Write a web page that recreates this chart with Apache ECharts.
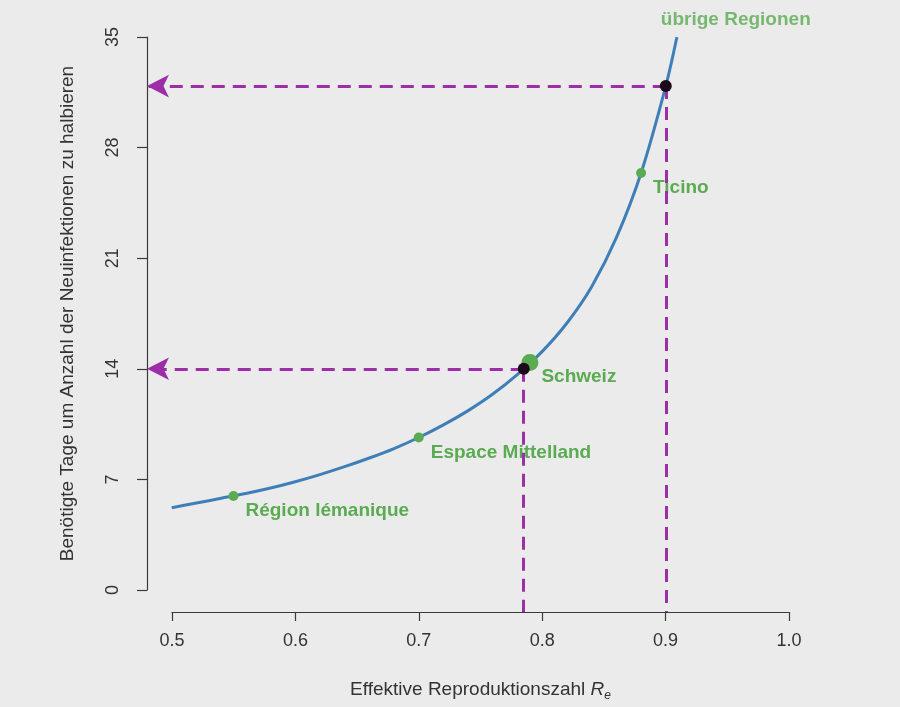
<!DOCTYPE html>
<html>
<head>
<meta charset="utf-8">
<script src="https://cdn.jsdelivr.net/npm/echarts@6/dist/echarts.min.js"></script>
<style>
  html, body { margin: 0; padding: 0; background: #ebebeb; }
  #chart { width: 900px; height: 707px; }
</style>
</head>
<body>
<div id="chart"></div>
<script>
// Kurve
const curveR = [0.50, 0.52, 0.54, 0.56, 0.58, 0.60, 0.62, 0.64, 0.66, 0.68, 0.70, 0.72, 0.74, 0.76, 0.78, 0.80, 0.82, 0.84, 0.86, 0.88, 0.90, 0.909]
const curveDays = [5.2, 5.5, 5.8, 6.1, 6.45, 6.85, 7.3, 7.8, 8.35, 8.95, 9.65, 10.45, 11.35, 12.4, 13.65, 15.1, 16.9, 19.2, 22.3, 26.4, 31.9, 35.0]

// Regionen
const regionNames = ['Région lémanique', 'Espace Mittelland', 'Schweiz', 'Ticino']
const regionR = [0.55, 0.70, 0.79, 0.88]
const regionDays = [5.95, 9.65, 14.4, 26.4]

// nur Beschriftung, Punkt liegt ausserhalb
const topLabel = 'übrige Regionen'
const topLabelR = 0.896
const topLabelDays = 36.1

// Ablese-Hilfslinien
const guideR = [0.785, 0.90]
const guideDays = [14.0, 31.9]

// Achsen
const xTickMin = 0.5, xTickMax = 1.0, xTickStep = 0.1
const yTickMin = 0, yTickMax = 35, yTickStep = 7

const green = '#5aab51'
const magenta = '#9c2fa8'
const blue = '#3f7fb8'
const axisColor = '#3a3a3a'
const font = 'Liberation Sans, Arial, Helvetica, sans-serif'

// R-Stil: Daten-Bereich 4% groesser als die beschrifteten Achsen
const padX = (xTickMax - xTickMin) * 0.04
const padY = (yTickMax - yTickMin) * 0.04
const xLo = xTickMin - padX, xHi = xTickMax + padX
const yLo = yTickMin - padY, yHi = yTickMax + padY

const chart = echarts.init(document.getElementById('chart'))

const guideLines = []
guideR.forEach((r, i) => {
  guideLines.push([
    { coord: [r, guideDays[i]], symbol: 'none' },
    { coord: [xLo, guideDays[i]], symbol: 'arrow' }
  ])
  guideLines.push([
    { coord: [r, guideDays[i]], symbol: 'none' },
    { coord: [r, yLo], symbol: 'none' }
  ])
})

const option = {
  backgroundColor: '#ebebeb',
  animation: false,
  textStyle: { fontFamily: font },
  grid: [
    { left: 147, right: 86, top: 15, bottom: 95 },   // Daten
    { left: 172, right: 111, top: 37, bottom: 117 }  // sichtbare Achsen
  ],
  xAxis: [
    { gridIndex: 0, type: 'value', min: xLo, max: xHi, show: false },
    {
      gridIndex: 1, type: 'value', min: xTickMin, max: xTickMax, interval: xTickStep,
      position: 'bottom', offset: 22,
      axisLine: { show: true, onZero: false, lineStyle: { color: axisColor, width: 1.2 } },
      axisTick: { show: true, length: 9, lineStyle: { color: axisColor, width: 1.2 } },
      splitLine: { show: false },
      axisLabel: { color: '#333', fontSize: 18, margin: 20, formatter: v => v.toFixed(1), fontFamily: font },
      name: '{n|Effektive Reproduktionszahl }{r|R}{e|e}',
      nameLocation: 'middle', nameGap: 66,
      nameTextStyle: {
        color: '#333', fontSize: 19, fontFamily: font,
        rich: {
          n: { fontSize: 19, color: '#333', fontFamily: font },
          r: { fontSize: 19, color: '#333', fontStyle: 'italic', fontFamily: font },
          e: { fontSize: 12, color: '#333', fontStyle: 'italic', fontFamily: font, padding: [12, 0, 0, 0] }
        }
      }
    }
  ],
  yAxis: [
    { gridIndex: 0, type: 'value', min: yLo, max: yHi, show: false },
    {
      gridIndex: 1, type: 'value', min: yTickMin, max: yTickMax, interval: yTickStep,
      position: 'left', offset: 25,
      axisLine: { show: true, onZero: false, lineStyle: { color: axisColor, width: 1.2 } },
      axisTick: { show: true, length: 10, lineStyle: { color: axisColor, width: 1.2 } },
      splitLine: { show: false },
      axisLabel: { color: '#333', fontSize: 18, margin: 25, rotate: 90, fontFamily: font },
      name: 'Benötigte Tage um Anzahl der Neuinfektionen zu halbieren',
      nameLocation: 'middle', nameGap: 70,
      nameTextStyle: { color: '#333', fontSize: 19, fontFamily: font }
    }
  ],
  series: [
    {
      name: 'Kurve', type: 'line', xAxisIndex: 0, yAxisIndex: 0,
      data: curveR.map((r, i) => [r, curveDays[i]]),
      smooth: 0.3, showSymbol: false,
      lineStyle: { color: blue, width: 3 },
      z: 2
    },
    {
      name: 'Regionen', type: 'scatter', xAxisIndex: 0, yAxisIndex: 0,
      data: regionNames.map((n, i) => ({
        name: n,
        value: [regionR[i], regionDays[i]],
        label: { offset: n === 'Schweiz' ? [1, 14] : [5, 15] }
      })),
      symbolSize: (v, p) => p.name === 'Schweiz' ? 17 : 10,
      itemStyle: { color: green, opacity: 1 },
      label: {
        show: true, position: 'right', distance: 2, formatter: '{b}',
        color: green, fontSize: 19, fontWeight: 'bold', fontFamily: font
      },
      z: 3
    },
    {
      name: 'Beschriftung', type: 'scatter', xAxisIndex: 0, yAxisIndex: 0,
      data: [{ name: topLabel, value: [topLabelR, topLabelDays] }],
      symbolSize: 0,
      label: {
        show: true, position: 'right', distance: 0, formatter: '{b}',
        color: green, fontSize: 19, fontWeight: 'bold', fontFamily: font
      },
      z: 3
    },
    {
      name: 'Hilfslinien', type: 'line', xAxisIndex: 0, yAxisIndex: 0,
      data: [],
      markLine: {
        silent: true, animation: false,
        symbolSize: [17, 22],
        label: { show: false },
        lineStyle: { color: magenta, width: 3, type: [13, 8], opacity: 1 },
        itemStyle: { color: magenta },
        emphasis: { disabled: true },
        data: guideLines
      },
      z: 4
    },
    {
      name: 'Ablesepunkte', type: 'scatter', xAxisIndex: 0, yAxisIndex: 0,
      data: guideR.map((r, i) => [r, guideDays[i]]),
      symbolSize: 12,
      itemStyle: { color: '#1a0a1a', opacity: 1 },
      z: 5
    }
  ]
}

chart.setOption(option)
</script>
</body>
</html>
